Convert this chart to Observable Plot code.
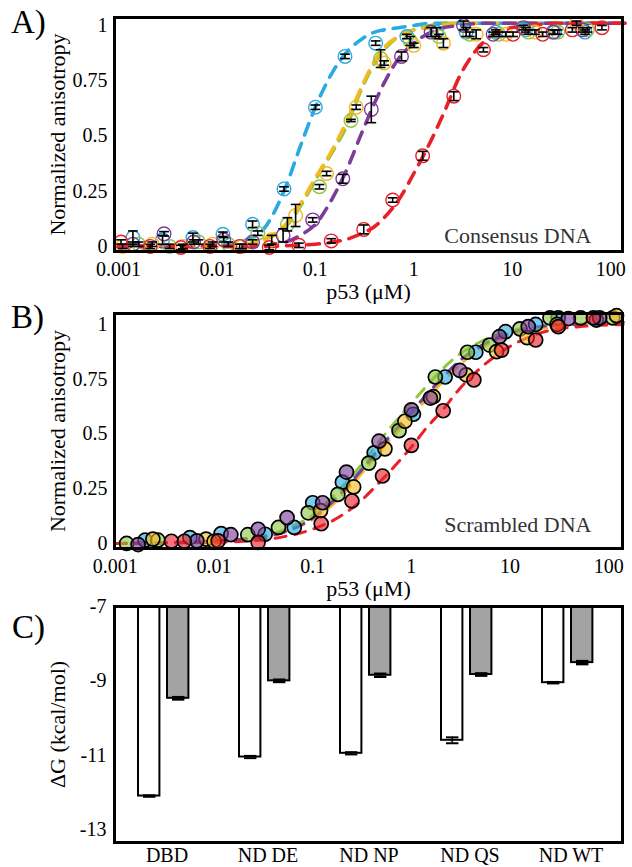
<!DOCTYPE html>
<html><head><meta charset="utf-8">
<script src="https://cdn.jsdelivr.net/npm/d3@7"></script>
<script src="https://cdn.jsdelivr.net/npm/@observablehq/plot@0.6"></script>
<style>
body{margin:0;background:#fff;font-family:'Liberation Serif','Times New Roman',Times,serif;}
#wrap{position:relative;width:632px;height:867px;overflow:hidden;}
.letter{position:absolute;font-size:33px;line-height:1;font-family:'Liberation Serif','Times New Roman',Times,serif;}
svg{overflow:visible}
svg text{font-family:'Liberation Serif','Times New Roman',Times,serif !important;}
g[aria-label="x-axis label"] text, g[aria-label="y-axis label"] text{font-size:22px}
</style></head><body>
<div id="wrap"></div>
<script>
// ---------- shared ----------
const proteins = ["DBD", "ND DE", "ND NP", "ND QS", "ND WT"];
const proteinColors = ["#29abe2", "#8dc63f", "#f5b921", "#7d3c98", "#e8202a"];
const xTicks = [0.001, 0.01, 0.1, 1, 10, 100];
const xTickLabels = ["0.001", "0.01", "0.1", "1", "10", "100"];
const yTicks = [0, 0.25, 0.5, 0.75, 1];
const yTickLabels = ["0", "0.25", "0.5", "0.75", "1"];

// ---------- panel A: consensus DNA (open circles, mean ± err) ----------
const aDBD_x = [0.0014, 0.0028, 0.0057, 0.0115, 0.023, 0.048, 0.1, 0.2, 0.41, 0.85, 1.7, 3.4, 6.8, 13.7, 27, 55];
const aDBD_y = [0.04, 0.03, 0.04, 0.055, 0.1, 0.26, 0.63, 0.86, 0.92, 0.95, 0.97, 0.97, 0.97, 0.98, 0.97, 0.97];
const aDBD_e = [0.03, 0.02, 0.02, 0.01, 0.015, 0.01, 0.01, 0.01, 0.01, 0.01, 0.02, 0.02, 0.01, 0.01, 0.01, 0.01];
const aDE_x = [0.0016, 0.0033, 0.0065, 0.013, 0.026, 0.052, 0.11, 0.23, 0.46, 0.92, 1.8, 3.7, 7.3, 14.6, 29, 58];
const aDE_y = [0.01, 0.0, 0.02, 0.01, 0.06, 0.1, 0.27, 0.57, 0.85, 0.93, 0.95, 0.96, 0.96, 0.97, 0.97, 0.98];
const aDE_e = [0.01, 0.01, 0.01, 0.01, 0.01, 0.03, 0.01, 0.005, 0.04, 0.02, 0.01, 0.01, 0.01, 0.01, 0.01, 0.01];
const aNP_x = [0.0011, 0.0022, 0.0045, 0.009, 0.018, 0.036, 0.063, 0.13, 0.26, 0.5, 1.0, 2.0, 4.3, 8.6, 17, 45];
const aNP_y = [0.0, 0.01, 0.0, 0.01, 0.0, 0.03, 0.14, 0.33, 0.63, 0.83, 0.91, 0.92, 0.96, 0.96, 0.97, 1.01];
const aNP_e = [0.01, 0.01, 0.01, 0.01, 0.01, 0.02, 0.05, 0.01, 0.01, 0.01, 0.01, 0.02, 0.02, 0.01, 0.01, 0.01];
const aQS_x = [0.0014, 0.0029, 0.0058, 0.0117, 0.023, 0.047, 0.094, 0.19, 0.37, 0.75, 1.5, 3.2, 6.4, 13, 26, 52];
const aQS_y = [0.01, 0.057, 0.02, 0.03, 0.02, 0.05, 0.12, 0.306, 0.62, 0.86, 0.97, 1.0, 0.96, 0.99, 0.97, 0.98];
const aQS_e = [0.01, 0.01, 0.01, 0.01, 0.01, 0.03, 0.01, 0.02, 0.06, 0.02, 0.02, 0.02, 0.01, 0.01, 0.01, 0.01];
const aWT_x = [0.00106, 0.0021, 0.0043, 0.0085, 0.017, 0.034, 0.068, 0.145, 0.31, 0.61, 1.23, 2.55, 5.1, 10.2, 20.4, 40.8, 81.6];
const aWT_y = [0.02, 0.0, -0.005, 0.0, 0.0, -0.005, 0.005, 0.025, 0.077, 0.21, 0.41, 0.68, 0.89, 0.96, 0.96, 0.98, 0.99];
const aWT_e = [0.01, 0.01, 0.01, 0.01, 0.01, 0.01, 0.01, 0.01, 0.02, 0.01, 0.02, 0.02, 0.01, 0.01, 0.01, 0.01, 0.01];

// fitted curves of panel A, read at these concentrations
const aFit_x = [0.001, 0.01, 0.02, 0.03, 0.05, 0.07, 0.1, 0.15, 0.2, 0.3, 0.4, 0.5, 0.7, 1, 1.5, 2, 3, 5, 8, 15, 30, 140];
const aFitDBD = [0, 0.005, 0.03, 0.08, 0.27, 0.45, 0.63, 0.79, 0.87, 0.94, 0.97, 0.98, 0.99, 1.0, 1.01, 1.01, 1.01, 1.01, 1.01, 1.01, 1.01, 1.01];
const aFitDE = [0, 0, 0.01, 0.03, 0.09, 0.18, 0.3, 0.43, 0.53, 0.72, 0.83, 0.89, 0.95, 0.98, 1.0, 1.01, 1.01, 1.01, 1.01, 1.01, 1.01, 1.01];
const aFitNP = [0, 0, 0.01, 0.03, 0.1, 0.19, 0.31, 0.44, 0.55, 0.73, 0.84, 0.9, 0.95, 0.98, 0.99, 1.0, 1.01, 1.01, 1.01, 1.01, 1.01, 1.01];
const aFitQS = [0, 0, 0, 0.005, 0.02, 0.05, 0.1, 0.22, 0.33, 0.52, 0.65, 0.74, 0.85, 0.92, 0.97, 0.99, 1.0, 1.01, 1.01, 1.01, 1.01, 1.01];
const aFitWT = [0, 0, 0, 0, 0.003, 0.006, 0.01, 0.02, 0.03, 0.06, 0.09, 0.13, 0.21, 0.33, 0.48, 0.6, 0.78, 0.92, 0.98, 1.0, 1.01, 1.01];

// ---------- panel B: scrambled DNA (filled circles) ----------
const bDBD_x = [0.002, 0.0057, 0.0118, 0.033, 0.065, 0.1, 0.2, 0.42, 1.05, 2.2, 4.5, 9.0, 18.2, 30.8, 75];
const bDBD_y = [0.015, 0.027, 0.045, 0.042, 0.073, 0.186, 0.28, 0.414, 0.59, 0.76, 0.873, 0.967, 1.0, 1.03, 1.02];
const bDE_x = [0.0013, 0.0027, 0.022, 0.045, 0.09, 0.18, 0.37, 0.75, 1.75, 3.7, 6.2, 12.6, 25.4, 52, 110];
const bDE_y = [0.0, 0.015, 0.04, 0.073, 0.14, 0.224, 0.367, 0.515, 0.76, 0.873, 0.906, 0.98, 1.03, 1.03, 1.03];
const bNP_x = [0.0024, 0.0083, 0.01, 0.12, 0.26, 0.54, 0.86, 1.67, 3.6, 7.3, 14.9, 30, 120];
const bNP_y = [0.02, 0.02, 0.01, 0.15, 0.258, 0.432, 0.558, 0.67, 0.77, 0.876, 0.94, 1.0, 1.04];
const bQS_x = [0.0017, 0.0067, 0.0148, 0.028, 0.055, 0.126, 0.22, 0.47, 1.0, 1.56, 3.1, 7.8, 15.3, 39, 81];
const bQS_y = [-0.005, 0.012, 0.04, 0.065, 0.118, 0.186, 0.326, 0.467, 0.61, 0.664, 0.79, 0.944, 0.99, 1.027, 1.03];
const bWT_x = [0.0037, 0.005, 0.011, 0.028, 0.122, 0.25, 0.51, 1.0, 2.1, 4.3, 8.2, 18.2, 30.8, 70];
const bWT_y = [0.01, 0.01, 0.012, 0.005, 0.09, 0.194, 0.308, 0.448, 0.606, 0.747, 0.883, 0.929, 0.99, 1.03];

const bFit_x = [0.001, 0.01, 0.02, 0.05, 0.1, 0.2, 0.3, 0.5, 1, 1.5, 2, 3, 5, 10, 20, 50, 140];
const bFitDBD = [0, 0.01, 0.02, 0.055, 0.12, 0.24, 0.33, 0.45, 0.6, 0.69, 0.75, 0.83, 0.9, 0.96, 0.99, 1.0, 1.01];
const bFitDE = [0, 0.01, 0.02, 0.06, 0.13, 0.26, 0.35, 0.48, 0.64, 0.73, 0.79, 0.86, 0.92, 0.97, 0.99, 1.0, 1.01];
const bFitNP = [0, 0.01, 0.02, 0.05, 0.11, 0.22, 0.31, 0.43, 0.58, 0.67, 0.73, 0.81, 0.89, 0.95, 0.98, 1.0, 1.01];
const bFitQS = [0, 0.01, 0.02, 0.05, 0.115, 0.235, 0.325, 0.445, 0.6, 0.69, 0.75, 0.83, 0.9, 0.96, 0.99, 1.0, 1.01];
const bFitWT = [0, 0.005, 0.01, 0.03, 0.065, 0.13, 0.19, 0.29, 0.44, 0.54, 0.6, 0.7, 0.8, 0.9, 0.96, 0.99, 1.0];

// ---------- panel C: ΔG bars ----------
const dgCategories = ["DBD", "ND DE", "ND NP", "ND QS", "ND WT"];
const dgConsensus = [-12.1, -11.05, -10.95, -10.6, -9.05];
const dgConsensusErr = [0.02, 0.03, 0.03, 0.08, 0.02];
const dgScrambled = [-9.47, -9.0, -8.85, -8.83, -8.51];
const dgScrambledErr = [0.03, 0.03, 0.04, 0.03, 0.04];
const dgBase = -7;
const dgTicks = [-7, -9, -11, -13];

// ---------- helpers ----------
function tidy(name, xs, ys, es) { return xs.map((x, i) => ({s: name, x, y: ys[i], e: es ? es[i] : 0})); }
const aPts = [].concat(
  tidy("DBD", aDBD_x, aDBD_y, aDBD_e), tidy("ND DE", aDE_x, aDE_y, aDE_e),
  tidy("ND NP", aNP_x, aNP_y, aNP_e), tidy("ND QS", aQS_x, aQS_y, aQS_e),
  tidy("ND WT", aWT_x, aWT_y, aWT_e));
const aFits = [].concat(
  tidy("DBD", aFit_x, aFitDBD), tidy("ND DE", aFit_x, aFitDE), tidy("ND NP", aFit_x, aFitNP),
  tidy("ND QS", aFit_x, aFitQS), tidy("ND WT", aFit_x, aFitWT));
const bPts = [].concat(
  tidy("DBD", bDBD_x, bDBD_y), tidy("ND DE", bDE_x, bDE_y), tidy("ND NP", bNP_x, bNP_y),
  tidy("ND QS", bQS_x, bQS_y), tidy("ND WT", bWT_x, bWT_y));
const bFits = [].concat(
  tidy("DBD", bFit_x, bFitDBD), tidy("ND DE", bFit_x, bFitDE), tidy("ND NP", bFit_x, bFitNP),
  tidy("ND QS", bFit_x, bFitQS), tidy("ND WT", bFit_x, bFitWT));
const cCons = dgCategories.map((c, i) => ({c, v: dgConsensus[i], e: dgConsensusErr[i]}));
const cScr = dgCategories.map((c, i) => ({c, v: dgScrambled[i], e: dgScrambledErr[i]}));

const cap = {draw(ctx, size) { const w = Math.sqrt(size) / 2; ctx.moveTo(-w, 0); ctx.lineTo(w, 0); }};
const serif = "'Liberation Serif', 'Times New Roman', Times, serif";
const baseStyle = {fontFamily: serif, fontSize: "20px", background: "transparent", overflow: "visible", color: "black"};
const colorScale = {domain: proteins, range: proteinColors};
const xLabel = d => { const k = xTicks.findIndex(t => Math.abs(Math.log10(t) - Math.log10(d)) < 1e-6); return k >= 0 ? xTickLabels[k] : String(d); };
const yLabel = d => { const k = yTicks.findIndex(t => Math.abs(t - d) < 1e-9); return k >= 0 ? yTickLabels[k] : String(d); };

function xAxisMark() {
  return Plot.axisX(xTicks, {anchor: "bottom", tickSize: 0, tickPadding: 10, tickFormat: xLabel,
    label: "p53 (μM)", labelAnchor: "center", labelOffset: 47, labelArrow: "none"});
}
function yAxisMark() {
  return Plot.axisY(yTicks, {anchor: "left", tickSize: 0, tickPadding: 7, tickFormat: yLabel,
    label: "Normalized anisotropy", labelAnchor: "center", labelOffset: 65, labelArrow: "none"});
}

const wrap = document.getElementById("wrap");
function place(el, top) { el.style.position = "absolute"; el.style.left = "0px"; el.style.top = top + "px"; wrap.appendChild(el); }
function letter(t, x, y) { const d = document.createElement("div"); d.className = "letter"; d.textContent = t; d.style.left = x + "px"; d.style.top = y + "px"; wrap.appendChild(d); }

// ---------- A ----------
const plotA = Plot.plot({
  width: 632, height: 300, marginLeft: 114, marginRight: 10, marginTop: 17, marginBottom: 49,
  style: baseStyle,
  x: {type: "log", domain: [0.00091, 132]},
  y: {domain: [-0.023, 1.036]},
  color: colorScale,
  marks: [
    xAxisMark(), yAxisMark(),
    Plot.line(aFits, {x: "x", y: "y", z: "s", stroke: "s", strokeWidth: 3.6, strokeDasharray: "12,9", curve: "monotone-x"}),
    Plot.dot(aPts, {x: "x", y: "y", stroke: "s", r: 6.8, strokeWidth: 1.4, fill: "none"}),
    Plot.ruleX(aPts, {x: "x", y1: d => d.y - d.e, y2: d => d.y + d.e, stroke: "black", strokeWidth: 1.6}),
    Plot.dot(aPts, {x: "x", y: d => d.y - d.e, symbol: cap, r: 5.5, stroke: "black", strokeWidth: 1.6, fill: "none"}),
    Plot.dot(aPts, {x: "x", y: d => d.y + d.e, symbol: cap, r: 5.5, stroke: "black", strokeWidth: 1.6, fill: "none"}),
    Plot.text(["Consensus DNA"], {text: d => d, frameAnchor: "bottom-right", dx: -31, dy: -9, fontSize: 22, fill: "#333"}),
    Plot.frame({stroke: "black", strokeWidth: 3})
  ]
});
place(plotA, 0);

// ---------- B ----------
const plotB = Plot.plot({
  width: 632, height: 300, marginLeft: 114, marginRight: 10, marginTop: 13, marginBottom: 52,
  style: baseStyle,
  x: {type: "log", domain: [0.00098, 138]},
  y: {domain: [-0.023, 1.05]},
  color: colorScale,
  marks: [
    xAxisMark(), yAxisMark(),
    Plot.line(bFits, {x: "x", y: "y", z: "s", stroke: "s", strokeWidth: 3, strokeDasharray: "11,9", curve: "monotone-x"}),
    Plot.dot(bPts, {x: "x", y: "y", fill: "s", fillOpacity: 0.62, stroke: "black", strokeWidth: 1.7, r: 7}),
    Plot.text(["Scrambled DNA"], {text: d => d, frameAnchor: "bottom-right", dx: -31, dy: -17, fontSize: 22, fill: "#333"}),
    Plot.frame({stroke: "black", strokeWidth: 3})
  ]
});
place(plotB, 300);

// ---------- C ----------
const plotC = Plot.plot({
  width: 632, height: 267, marginLeft: 114, marginRight: 10, marginTop: 6, marginBottom: 25,
  style: baseStyle,
  x: {type: "band", domain: dgCategories, padding: 0, tickSize: 0, tickPadding: 5, label: null},
  y: {domain: [-13.35, -7], ticks: dgTicks, tickFormat: d => String(d), tickSize: 0, tickPadding: 8,
      label: "ΔG (kcal/mol)", labelAnchor: "center", labelOffset: 65, labelArrow: "none"},
  marks: [
    Plot.barY(cCons, {x: "c", y1: dgBase, y2: "v", fill: "white", stroke: "black", strokeWidth: 2, insetLeft: 22, insetRight: 57.6}),
    Plot.barY(cScr, {x: "c", y1: dgBase, y2: "v", fill: "#a3a3a3", stroke: "black", strokeWidth: 2, insetLeft: 51, insetRight: 28.6}),
    Plot.ruleX(cCons, {x: "c", y1: d => d.v - d.e, y2: d => d.v + d.e, dx: -17.8, stroke: "black", strokeWidth: 1.5}),
    Plot.dot(cCons, {x: "c", y: d => d.v - d.e, dx: -17.8, symbol: cap, r: 7, stroke: "black", strokeWidth: 2, fill: "none"}),
    Plot.dot(cCons, {x: "c", y: d => d.v + d.e, dx: -17.8, symbol: cap, r: 7, stroke: "black", strokeWidth: 2, fill: "none"}),
    Plot.ruleX(cScr, {x: "c", y1: d => d.v - d.e, y2: d => d.v + d.e, dx: 11.2, stroke: "black", strokeWidth: 1.5}),
    Plot.dot(cScr, {x: "c", y: d => d.v - d.e, dx: 11.2, symbol: cap, r: 7, stroke: "black", strokeWidth: 2.5, fill: "none"}),
    Plot.dot(cScr, {x: "c", y: d => d.v + d.e, dx: 11.2, symbol: cap, r: 7, stroke: "black", strokeWidth: 2.5, fill: "none"}),
    Plot.frame({stroke: "black", strokeWidth: 3})
  ]
});
place(plotC, 600);

letter("A)", 11, 6);
letter("B)", 11, 301);
letter("C)", 12, 611);
</script>
</body></html>
